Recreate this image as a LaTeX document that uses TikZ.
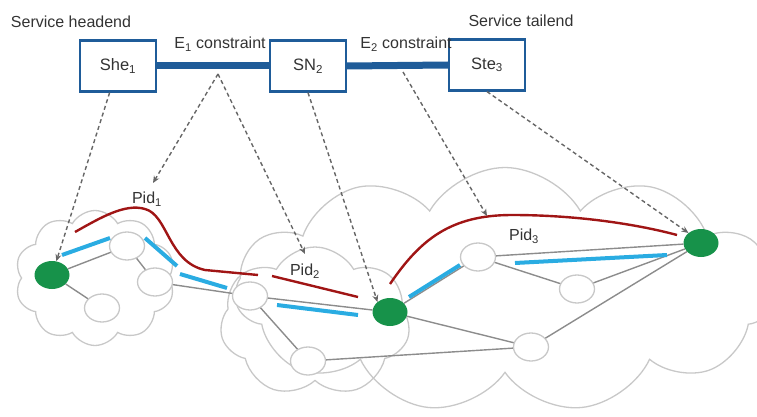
\documentclass[tikz,border=0pt]{standalone}
\usepackage{fontspec}
\setmainfont{Liberation Sans}
\usetikzlibrary{shapes.geometric,shapes.symbols,arrows.meta}
\definecolor{boxblue}{HTML}{1F5C99}
\definecolor{cloudgrey}{HTML}{C8C8C8}
\definecolor{linkgrey}{HTML}{8C8C8C}
\definecolor{hintgrey}{HTML}{666666}
\definecolor{pegreen}{HTML}{17924A}
\definecolor{pathred}{HTML}{A01515}
\definecolor{pathblue}{HTML}{2AACE2}
\definecolor{txtgrey}{HTML}{333333}
\begin{document}
\begin{tikzpicture}[x=1pt,y=-1pt,
    font=\fontsize{16}{19}\selectfont,
    box/.style={draw=boxblue,line width=2.2pt,fill=white,minimum width=76pt,
      minimum height=51pt,font=\fontsize{16.5}{19}\selectfont,text=txtgrey},
    tag/.style={text=txtgrey,inner sep=1pt},
    cloudy/.style={cloud,draw=cloudgrey,line width=1.3pt,cloud puffs=10,
      cloud puff arc=120,cloud ignores aspect},
    router/.style={ellipse,draw=cloudgrey,line width=1.3pt,fill=white,
      minimum width=35pt,minimum height=28pt},
    pe/.style={ellipse,fill=pegreen,minimum width=35pt,minimum height=28pt},
    bar/.style={draw=boxblue,line width=7pt},
    link/.style={draw=linkgrey,line width=1.4pt},
    hint/.style={draw=hintgrey,line width=1.4pt,dash pattern=on 4pt off 3pt,
      -{Stealth[length=7pt,width=6pt]}},
    redpath/.style={draw=pathred,line width=2.4pt},
    bluepath/.style={draw=pathblue,line width=4pt}]
  \useasboundingbox (0,0) rectangle (757,417);
  % clouds
  \draw
    (95,278) node[cloudy,minimum width=160pt,minimum height=135pt] (c0){}
    (315,322) node[cloudy,cloud puffs=7,minimum width=190pt,minimum height=150pt] (c1){}
    (505,290) node[cloudy,cloud puffs=11,minimum width=540pt,minimum height=245pt] (c2){};
  % routers
  \draw
    (52,275) node[pe] (g1){}
    (390,312) node[pe] (g2){}
    (701,243) node[pe] (g3){}
    (127,246) node[router] (r1){}
    (155,282) node[router] (r2){}
    (102,308) node[router] (r3){}
    (250,296) node[router] (r4){}
    (308,361) node[router] (r5){}
    (478,257) node[router] (r6){}
    (577,289) node[router] (r7){}
    (531,347) node[router] (r8){};
  \begin{scope}[link]
    \draw (g1) to (r1);
    \draw (g1) to (r3);
    \draw (r1) to (r2);
    \draw (r2) to (r4);
    \draw (r4) to (g2);
    \draw (r4) to (r5);
    \draw (r5) to (r8);
    \draw (g2) to (r6);
    \draw (g2) to (r8);
    \draw (r6) to (g3);
    \draw (r6) to (r7);
    \draw (r7) to (g3);
    \draw (r8) to (g3);
  \end{scope}
  % path ids
  \draw[bluepath] (62,255) -- (110,238);
  \draw[bluepath] (145,238) -- (177,266);
  \draw[bluepath] (180,274) -- (227,288);
  \draw[bluepath] (277,305) -- (358,315);
  \draw[bluepath] (409,297) -- (460,265);
  \draw[bluepath] (515,263) -- (667,255);
  \draw[redpath] (75,232) .. controls (100,218) and (125,203) .. (145,209)
    .. controls (168,215) and (168,262) .. (205,270) -- (258,275);
  \draw[redpath] (272,276) -- (358,297);
  \draw[redpath] (390,284) .. controls (420,240) and (450,215) .. (512,215)
    .. controls (580,215) and (640,225) .. (677,235);
  \draw
    (147,199) node[tag] (pid1){Pid\textsubscript{1}}
    (305,271) node[tag] (pid2){Pid\textsubscript{2}}
    (524,236) node[tag] (pid3){Pid\textsubscript{3}};
  % service nodes
  \draw
    (118,66) node[box] (she){She\textsubscript{1}}
    (308,66) node[box] (sn){SN\textsubscript{2}}
    (487,65) node[box] (ste){Ste\textsubscript{3}};
  \draw[bar] (she.east) -- (sn.west);
  \draw[bar] (sn.east) -- (ste.west);
  \draw
    (71,22) node[tag] (head){Service headend}
    (521,21) node[tag] (tail){Service tailend}
    (220,44) node[tag] (e1){E\textsubscript{1} constraint}
    (406,44) node[tag] (e2){E\textsubscript{2} constraint};
  \coordinate (s1) at (218,74);
  \coordinate (s2) at (403,72);
  \coordinate (t1) at (153,183);
  \coordinate (t2) at (305,254);
  \coordinate (t3) at (487,216);
  \draw[hint] (she) -- (g1);
  \draw[hint] (sn.south) -- (g2.north west);
  \draw[hint] (ste.south) -- (g3.north west);
  \draw[hint] (s1) -- (t1);
  \draw[hint] (s1) -- (t2);
  \draw[hint] (s2) -- (t3);
\end{tikzpicture}
\end{document}
